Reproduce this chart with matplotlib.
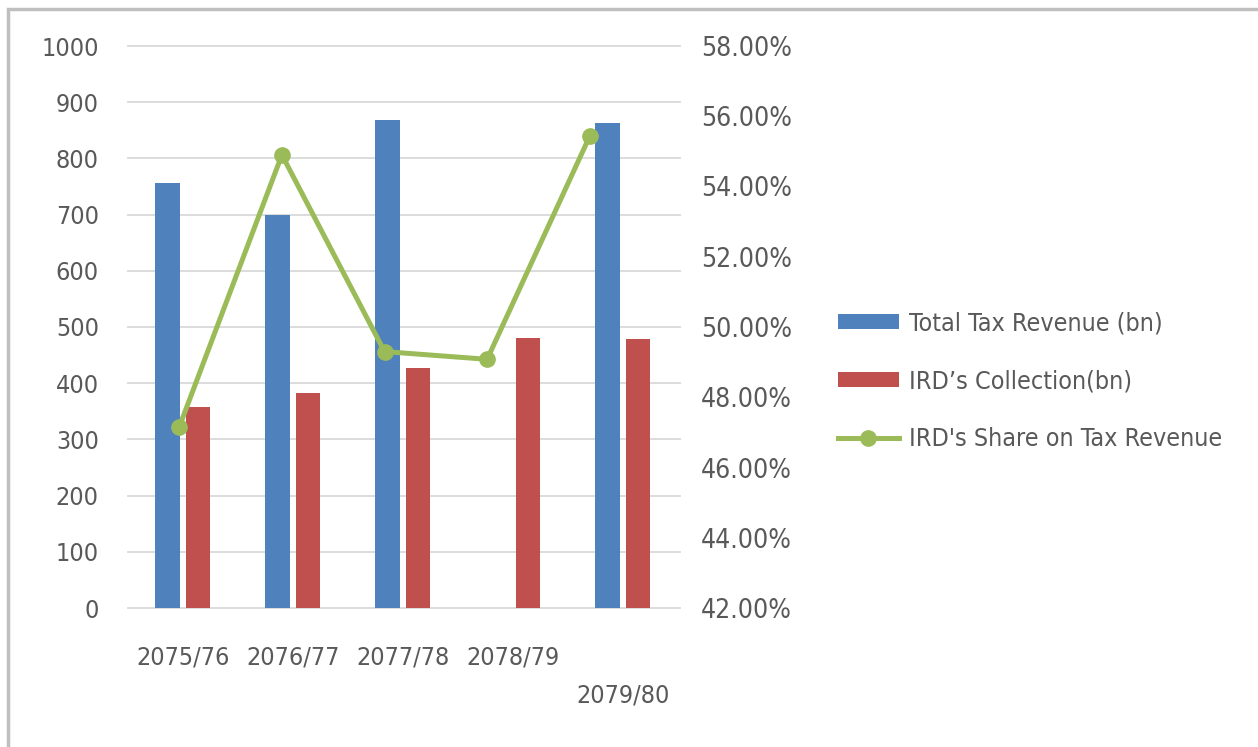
import numpy as np
import matplotlib
matplotlib.use("Agg")
import matplotlib.pyplot as plt
from matplotlib.patches import Rectangle
from matplotlib.ticker import PercentFormatter

years = ["2075/76", "2076/77", "2077/78", "2078/79", "\n2079/80"]
total_tax = [757, 699, 869, 0, 863]
ird_collection = [357, 383, 427, 480, 478]
ird_share = [47.16, 54.90, 49.30, 49.08, 55.43]

blue = "#4F81BD"
red = "#C0504D"
green = "#9BBB59"
txt = "#595959"

plt.rcParams["font.family"] = ["DejaVu Sans"]
plt.rcParams["font.stretch"] = "condensed"
plt.rcParams["font.size"] = 18.5

fig = plt.figure(figsize=(12.58, 7.47), dpi=100)

# grey frame on top and left like the screenshot
fig.patches.append(Rectangle((8 / 1258, -0.1), 1.2, 1.1 - 9 / 747, transform=fig.transFigure,
                             fill=False, edgecolor="#BFBFBF", lw=2.5))

pos = [128 / 1258, 139 / 747, 552 / 1258, 562 / 747]
ax = fig.add_axes(pos)
x = np.arange(len(years))
w = 0.22
ax.bar(x - 0.14, total_tax, w, color=blue, label="Total Tax Revenue (bn)", zorder=3)
ax.bar(x + 0.14, ird_collection, w, color=red, label="IRD\u2019s Collection(bn)", zorder=3)
ax.set_xlim(-0.5, 4.52)
ax.set_ylim(0, 1000)
ax.set_yticks(range(0, 1001, 100))
ax.set_xticks(x)
ax.set_xticklabels(years, linespacing=1.75)
ax.grid(axis="y", color="#D9D9D9", lw=1.3, zorder=0)
for gl in ax.get_ygridlines():
    gl.set_clip_on(False)
for s in ax.spines.values():
    s.set_visible(False)
ax.tick_params(length=0, colors=txt, labelsize=18)
ax.tick_params(axis="y", pad=21)
ax.tick_params(axis="x", pad=27)

# share line on its own overlay axes (secondary scale)
ax2 = fig.add_axes(pos)
ax2.patch.set_visible(False)
ax2.plot(np.arange(len(years)), ird_share, color=green, lw=3.6, marker="o", ms=11,
         label="IRD's Share on Tax Revenue", zorder=4)
ax2.set_xlim(-0.5, 4.88)
ax2.set_ylim(42, 58)
ax2.set_yticks(np.arange(42, 58.1, 2))
ax2.yaxis.set_major_formatter(PercentFormatter(decimals=2))
ax2.yaxis.tick_right()
ax2.set_xticks([])
for s in ax2.spines.values():
    s.set_visible(False)
ax2.tick_params(length=0, colors=txt, labelsize=19, pad=15)

h1, l1 = ax.get_legend_handles_labels()
h2, l2 = ax2.get_legend_handles_labels()
fig.legend(h1 + h2, l1 + l2, loc="center left", bbox_to_anchor=(815 / 1258, 1 - 381 / 747),
           frameon=False, fontsize=18, labelcolor=txt, handlelength=2.45, handleheight=0.55,
           labelspacing=1.35, handletextpad=0.4)

fig.savefig("out.png", dpi=100)
